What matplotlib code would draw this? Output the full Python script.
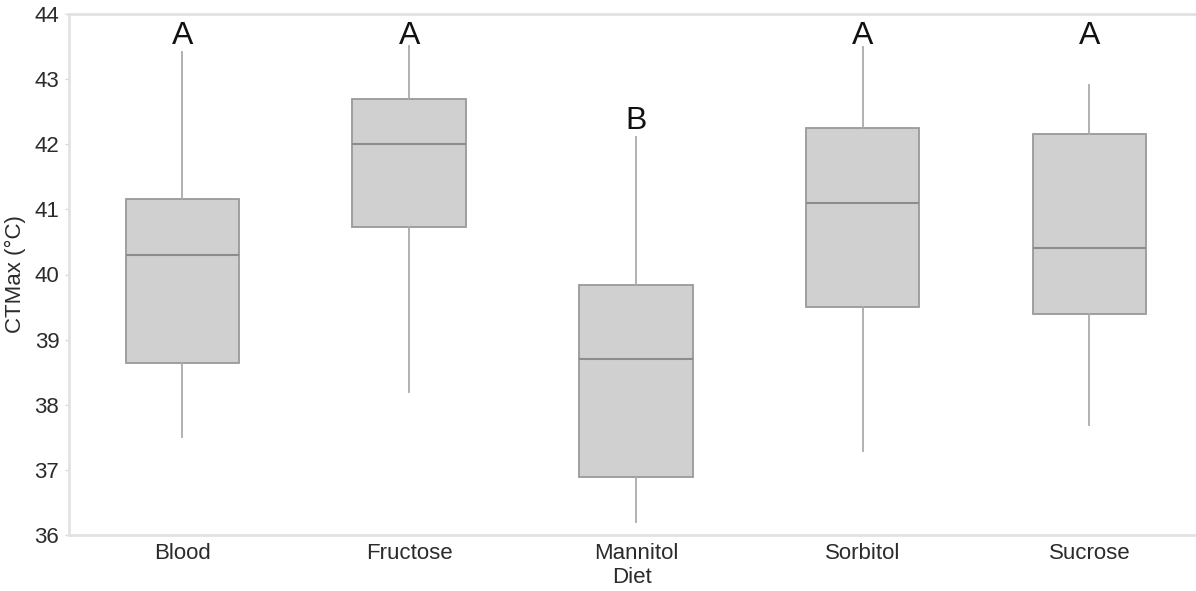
import matplotlib.pyplot as plt

plt.rcParams["font.family"] = ["Liberation Sans", "DejaVu Sans"]

diets = ["Blood", "Fructose", "Mannitol", "Sorbitol", "Sucrose"]
whisker_low = [37.50, 38.19, 36.20, 37.29, 37.69]
q1 = [38.64, 40.73, 36.89, 39.50, 39.39]
median = [40.30, 42.00, 38.70, 41.10, 40.41]
q3 = [41.16, 42.69, 39.84, 42.25, 42.16]
whisker_high = [43.42, 43.51, 42.11, 43.49, 42.91]
letters = ["A", "A", "B", "A", "A"]
letter_y = [43.66, 43.66, 42.35, 43.66, 43.66]

stats = []
for i, name in enumerate(diets):
    stats.append({
        "label": name,
        "whislo": whisker_low[i],
        "q1": q1[i],
        "med": median[i],
        "q3": q3[i],
        "whishi": whisker_high[i],
        "fliers": [],
    })

fig = plt.figure(figsize=(11.96, 5.91), dpi=100)
ax = fig.add_axes([69 / 1196, 56 / 591, 1 - 69 / 1196, 521 / 591])

ax.bxp(
    stats,
    positions=range(len(diets)),
    widths=0.5,
    patch_artist=True,
    showcaps=False,
    boxprops=dict(facecolor="#d0d0d0", edgecolor="#999999", linewidth=1.3),
    whiskerprops=dict(color="#aaaaaa", linewidth=1.3),
    medianprops=dict(color="#8c8c8c", linewidth=1.5),
)

for i, letter in enumerate(letters):
    ax.text(i, letter_y[i], letter, ha="center", va="center", fontsize=23, color="#111111")

ax.set_xlim(-0.5, 4.47)
ax.set_ylim(36, 44)
ax.set_yticks(range(36, 45))

for side in ["left", "bottom", "top"]:
    ax.spines[side].set_color("#e2e2e2")
    ax.spines[side].set_linewidth(2)
ax.spines["right"].set_visible(False)

ax.tick_params(axis="y", length=3, width=1, color="#d8d8d8", pad=4, labelsize=16, labelcolor="#2b2b2b")
ax.tick_params(axis="x", length=0, pad=6, labelsize=16, labelcolor="#2b2b2b")

ax.set_xlabel("Diet", fontsize=16, color="#2b2b2b", labelpad=2)
ax.set_ylabel("CTMax (°C)", fontsize=16, color="#2b2b2b", labelpad=6)

fig.savefig("out.png", dpi=100)
